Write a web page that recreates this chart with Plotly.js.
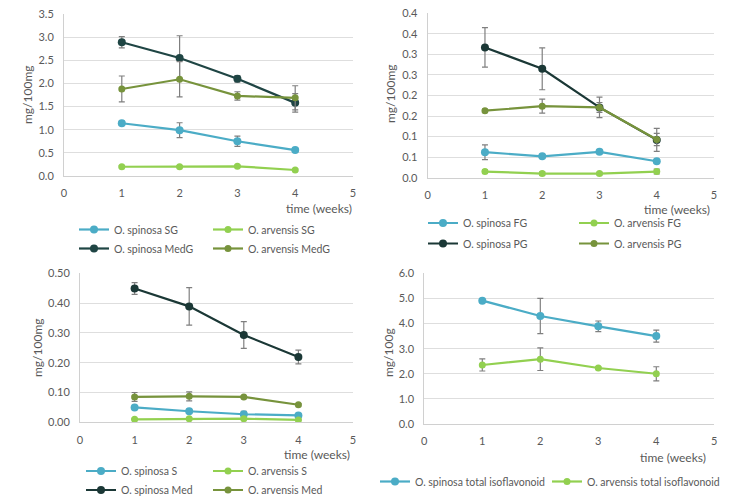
<!DOCTYPE html>
<html>
<head>
<meta charset="utf-8">
<script src="https://cdn.plot.ly/plotly-3.0.1.min.js"></script>
<style>html,body{margin:0;padding:0;background:#fff;}#chart{width:750px;height:499px;}</style>
</head>
<body>
<div id="chart"></div>
<script>
// ---- data ----
const weeks = [1, 2, 3, 4];

// panel 1 (mg/100mg)
const spinosaSG = [1.14, 0.99, 0.75, 0.56];
const spinosaSGErr = [0.04, 0.16, 0.11, 0.04];
const arvensisSG = [0.20, 0.20, 0.21, 0.13];
const arvensisSGErr = [0.02, 0.02, 0.02, 0.02];
const spinosaMedG = [2.89, 2.55, 2.10, 1.58];
const spinosaMedGErr = [0.12, 0.48, 0.07, 0.20];
const arvensisMedG = [1.88, 2.09, 1.73, 1.69];
const arvensisMedGErr = [0.28, 0.38, 0.09, 0.26];

// panel 2 (mg/100mg)
const spinosaFG = [0.062, 0.052, 0.063, 0.040];
const spinosaFGErr = [0.018, 0.004, 0.004, 0.004];
const arvensisFG = [0.015, 0.010, 0.010, 0.015];
const arvensisFGErr = [0.004, 0.004, 0.003, 0.006];
const spinosaPG = [0.317, 0.265, 0.171, 0.092];
const spinosaPGErr = [0.048, 0.051, 0.025, 0.028];
const arvensisPG = [0.163, 0.174, 0.171, 0.093];
const arvensisPGErr = [0.004, 0.017, 0.012, 0.015];
const panel2TickVals = [0, 0.05, 0.10, 0.15, 0.20, 0.25, 0.30, 0.35, 0.40];
const panel2TickText = ["0.0", "0.1", "0.1", "0.2", "0.2", "0.3", "0.3", "0.4", "0.4"];

// panel 3 (mg/100mg)
const spinosaS = [0.050, 0.037, 0.027, 0.023];
const spinosaSErr = [0.003, 0.004, 0.010, 0.005];
const arvensisS = [0.010, 0.012, 0.012, 0.008];
const arvensisSErr = [0.002, 0.002, 0.002, 0.002];
const spinosaMed = [0.449, 0.389, 0.293, 0.219];
const spinosaMedErr = [0.020, 0.063, 0.045, 0.023];
const arvensisMed = [0.085, 0.087, 0.085, 0.059];
const arvensisMedErr = [0.015, 0.015, 0.004, 0.004];

// panel 4 (mg/100g)
const spinosaTotal = [4.91, 4.30, 3.89, 3.50];
const spinosaTotalErr = [0.05, 0.70, 0.21, 0.24];
const arvensisTotal = [2.35, 2.58, 2.23, 2.00];
const arvensisTotalErr = [0.24, 0.45, 0.05, 0.28];

// ---- styles ----
const BLUE = '#4bacc6', LGREEN = '#92d050', DARK = '#1b3836', DARK1 = '#1f4544', OLIVE = '#77933c';
const ERRC = '#7f7f7f';
const TXT = '#595959';
const FONT = 'Lato, "Open Sans", sans-serif';

function tr(name, y, err, color, size, xa, ya, legend) {
  return {
    type: 'scatter', mode: 'lines+markers', name: name,
    x: weeks, y: y,
    error_y: {type: 'data', array: err, visible: true, color: ERRC, thickness: 1.2, width: 3},
    line: {color: color, width: 2.2},
    marker: {color: color, size: size, symbol: 'circle'},
    xaxis: xa, yaxis: ya, legend: legend, legendgroup: name
  };
}

const data = [
  tr('O. spinosa SG', spinosaSG, spinosaSGErr, BLUE, 8, 'x', 'y', 'legend'),
  tr('O. arvensis SG', arvensisSG, arvensisSGErr, LGREEN, 7, 'x', 'y', 'legend5'),
  tr('O. spinosa MedG', spinosaMedG, spinosaMedGErr, DARK1, 8, 'x', 'y', 'legend'),
  tr('O. arvensis MedG', arvensisMedG, arvensisMedGErr, OLIVE, 7, 'x', 'y', 'legend5'),

  tr('O. spinosa FG', spinosaFG, spinosaFGErr, BLUE, 8, 'x2', 'y2', 'legend2'),
  tr('O. arvensis FG', arvensisFG, arvensisFGErr, LGREEN, 7, 'x2', 'y2', 'legend6'),
  tr('O. spinosa PG', spinosaPG, spinosaPGErr, DARK, 8, 'x2', 'y2', 'legend2'),
  tr('O. arvensis PG', arvensisPG, arvensisPGErr, OLIVE, 7, 'x2', 'y2', 'legend6'),

  tr('O. spinosa S', spinosaS, spinosaSErr, BLUE, 8, 'x3', 'y3', 'legend3'),
  tr('O. arvensis S', arvensisS, arvensisSErr, LGREEN, 7, 'x3', 'y3', 'legend7'),
  tr('O. spinosa Med', spinosaMed, spinosaMedErr, DARK, 8, 'x3', 'y3', 'legend3'),
  tr('O. arvensis Med', arvensisMed, arvensisMedErr, OLIVE, 7, 'x3', 'y3', 'legend7'),

  tr('O. spinosa total isoflavonoid', spinosaTotal, spinosaTotalErr, BLUE, 8, 'x4', 'y4', 'legend4'),
  tr('O. arvensis total isoflavonoid', arvensisTotal, arvensisTotalErr, LGREEN, 7, 'x4', 'y4', 'legend8')
];

const W = 750, H = 499;
const px = v => v / W;
const py = v => 1 - v / H;

function xax(l, r, anchor) {
  return {
    domain: [px(l), px(r)], anchor: anchor, range: [0, 5], dtick: 1, tick0: 0,
    showgrid: false, zeroline: false, showline: true, linecolor: '#d0d0d0', linewidth: 1,
    ticks: '', ticklabelstandoff: 7,
    tickfont: {family: FONT, size: 11, color: TXT}, automargin: false, fixedrange: true
  };
}
function yax(top, bottom, anchor, range, extra) {
  return Object.assign({
    domain: [py(bottom), py(top)], anchor: anchor, range: range,
    showgrid: true, gridcolor: '#dedede', gridwidth: 1,
    zeroline: false, showline: true, linecolor: '#d0d0d0', linewidth: 1,
    ticks: '', ticklabelstandoff: 7,
    tickfont: {family: FONT, size: 11, color: TXT}, automargin: false, fixedrange: true
  }, extra);
}
function leg(x, yTop, gap) {
  return {
    x: px(x), y: py(yTop), xanchor: 'left', yanchor: 'top', xref: 'paper', yref: 'paper',
    orientation: 'v', traceorder: 'grouped', tracegroupgap: gap, borderwidth: 0,
    font: {family: FONT, size: 10.5, color: TXT}, bgcolor: 'rgba(0,0,0,0)', itemwidth: 30
  };
}
function tlabel(xr, ytop) {
  return {
    text: 'time (weeks)', xref: 'paper', yref: 'paper', x: px(xr), y: py(ytop),
    xanchor: 'right', yanchor: 'top', showarrow: false,
    font: {family: FONT, size: 12, color: TXT}
  };
}
function ytitle(text, xc, yc) {
  return {
    text: text, xref: 'paper', yref: 'paper', x: px(xc), y: py(yc),
    xanchor: 'center', yanchor: 'middle', textangle: -90, showarrow: false,
    font: {family: FONT, size: 12, color: TXT}
  };
}

const layout = {
  width: W, height: H,
  margin: {l: 0, r: 0, t: 0, b: 0, autoexpand: false},
  paper_bgcolor: '#ffffff', plot_bgcolor: '#ffffff',
  showlegend: true,
  xaxis: xax(64, 353, 'y'),
  yaxis: yax(14, 176, 'x', [0, 3.5], {dtick: 0.5, tick0: 0, tickformat: '.1f'}),
  xaxis2: xax(427.7, 714, 'y2'),
  yaxis2: yax(13.3, 177.7, 'x2', [0, 0.4], {tickmode: 'array', tickvals: panel2TickVals, ticktext: panel2TickText}),
  xaxis3: xax(80, 353, 'y3'),
  yaxis3: yax(273.3, 422.3, 'x3', [0, 0.5], {dtick: 0.1, tick0: 0, tickformat: '.2f'}),
  xaxis4: xax(424.3, 714.3, 'y4'),
  yaxis4: yax(273.3, 424, 'x4', [0, 6], {dtick: 1, tick0: 0, tickformat: '.1f'}),
  legend: leg(74, 215, 0),
  legend5: leg(208, 215, 0),
  legend2: leg(423, 208.5, 1.5),
  legend6: leg(574, 208.5, 1.5),
  legend3: leg(81, 456.5, 0),
  legend7: leg(208, 456.5, 0),
  legend4: leg(375, 467, 0),
  legend8: leg(547, 467, 0),
  annotations: [
    tlabel(354, 199),
    tlabel(712, 200),
    tlabel(352, 445),
    tlabel(708, 448),
    ytitle('mg/100mg', 28, 95),
    ytitle('mg/100mg', 391, 94),
    ytitle('mg/100mg', 37, 348),
    ytitle('mg/100g', 388, 353)
  ]
};

Plotly.newPlot('chart', data, layout, {displayModeBar: false, staticPlot: true});
</script>
</body>
</html>
